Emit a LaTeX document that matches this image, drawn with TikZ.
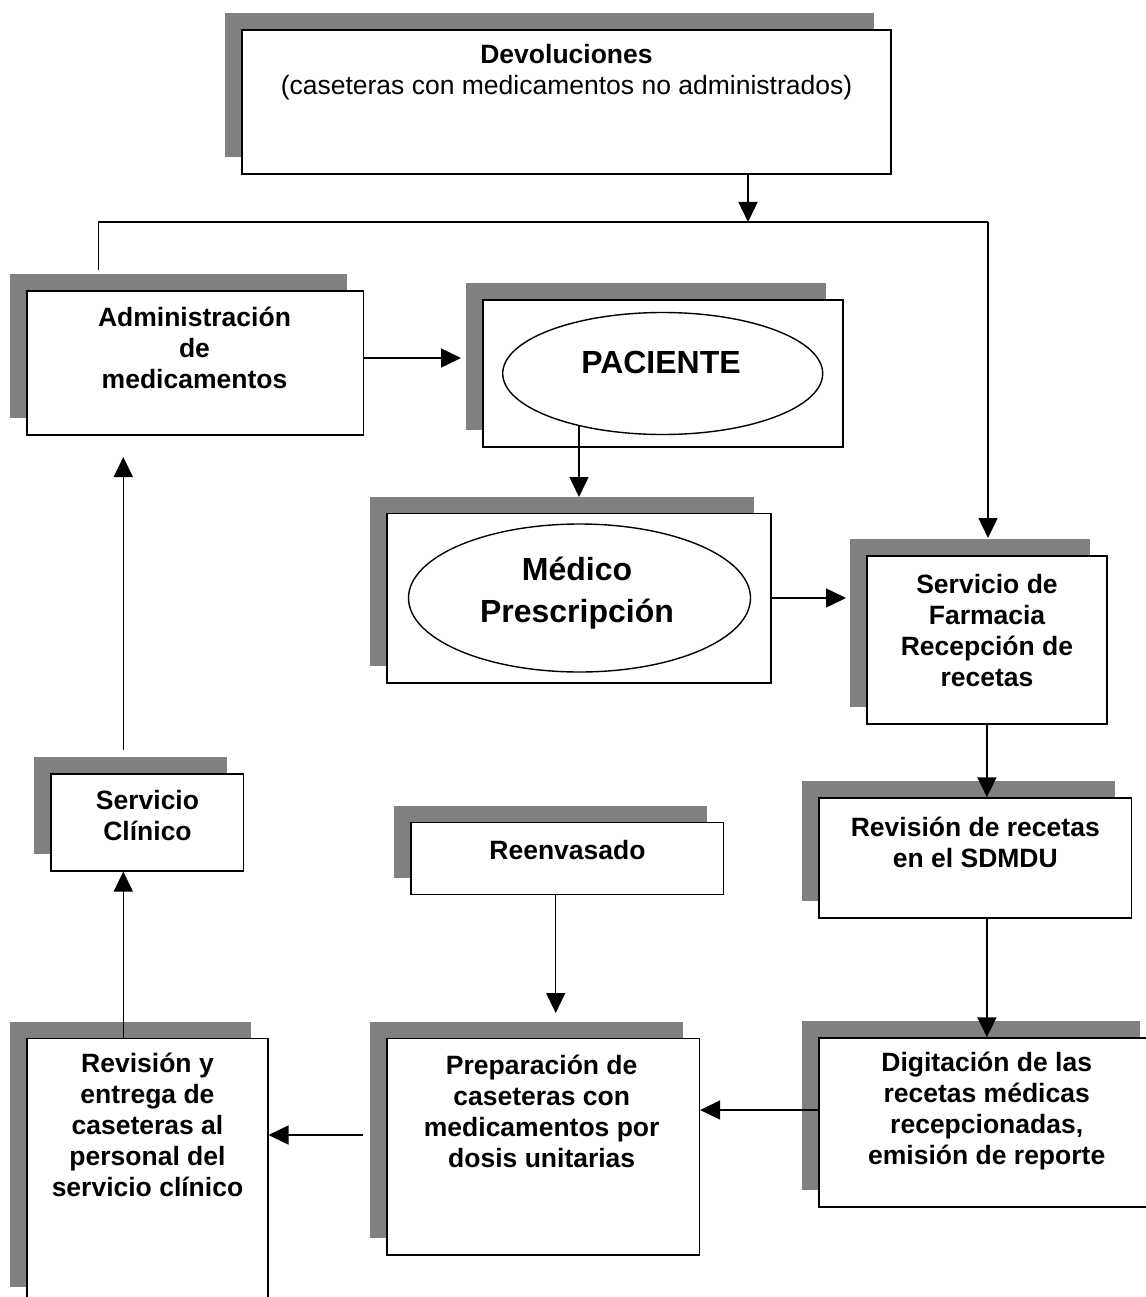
\documentclass[tikz,border=0pt]{standalone}
\usepackage{fontspec}
\setmainfont{Liberation Sans}
\usetikzlibrary{shadows,shapes.geometric,arrows.meta}
\definecolor{shadowgray}{RGB}{128,128,128}
\tikzset{
  box/.style={draw, line width=1.6pt, fill=white, rectangle, inner sep=0pt,
    general shadow={fill=shadowgray, shadow xshift=-16.7pt, shadow yshift=16.7pt}},
  oval/.style={draw, line width=1.4pt, fill=white, ellipse, inner sep=0pt},
  lbl/.style={font=\fontsize{26.5}{31}\selectfont\bfseries, align=center, inner sep=0pt},
  biglbl/.style={font=\fontsize{32}{42}\selectfont\bfseries, align=center, inner sep=0pt},
  conn/.style={line width=1.5pt},
  arr/.style={line width=1.5pt, -{Triangle[length=20pt,width=19pt]}}
}
\begin{document}
\begin{tikzpicture}[x=1pt,y=-1pt]
\useasboundingbox (0,0) rectangle (1145,1297);

% boxes
\node[box, minimum width=649pt, minimum height=144pt] (dev) at (566.5,102) {};
\node[box, minimum width=336.6pt, minimum height=144.3pt] (admin) at (195,362.9) {};
\node[box, minimum width=360.3pt, minimum height=146.7pt] (pac) at (662.9,373.4) {};
\node[box, minimum width=384pt, minimum height=169.4pt] (med) at (578.7,598) {};
\node[box, minimum width=240.3pt, minimum height=168.3pt] (farm) at (986.9,639.9) {};
\node[box, minimum width=312.7pt, minimum height=119.7pt] (rev) at (975.3,857.9) {};
\node[box, minimum width=338pt, minimum height=168.7pt] (dig) at (988,1122.4) {};
\node[box, minimum width=312.6pt, minimum height=216.7pt] (prep) at (543,1146.7) {};
\node[box, minimum width=312.3pt, minimum height=72pt] (reen) at (567.2,858.3) {};
\node[box, minimum width=192.6pt, minimum height=96.7pt] (cli) at (147,822.4) {};
\node[box, minimum width=241pt, minimum height=265.4pt] (ent) at (147.2,1171) {};

% ellipses
\node[oval, minimum width=320pt, minimum height=122pt] (pacE) at (662.7,373.5) {};
\node[oval, minimum width=342pt, minimum height=148pt] (medE) at (579.5,598) {};

% texts
\node[lbl] (devT) at (566.5,72.5) {Devoluciones\\{\mdseries (caseteras con medicamentos no administrados)}};
\node[lbl] (adminT) at (194.5,348) {Administración\\de\\medicamentos};
\node[biglbl] (pacT) at (661,362) {PACIENTE};
\node[biglbl] (medT) at (577,593.5) {Médico\\Prescripción};
\node[lbl] (farmT) at (987,631) {Servicio de\\Farmacia\\Recepción de\\recetas};
\node[lbl] (revT) at (975.3,842) {Revisión de recetas\\en el SDMDU};
\node[lbl] (digT) at (986.7,1111) {Digitación de las\\recetas médicas\\recepcionadas,\\emisión de reporte};
\node[lbl] (prepT) at (541.7,1111.5) {Preparación de\\caseteras con\\medicamentos por\\dosis unitarias};
\node[lbl] (reenT) at (567.5,850) {Reenvasado};
\node[lbl] (cliT) at (147.5,816) {Servicio\\Clínico};
\node[lbl] (entT) at (147.5,1125) {Revisión y\\entrega de\\caseteras al\\personal del\\servicio clínico};

% connector points
\coordinate (j1) at (748,222);
\coordinate (jl) at (98.3,222);
\coordinate (jr) at (988,222);
\coordinate (al) at (98.3,270);
\coordinate (ft) at (988,538);
\coordinate (pacL) at (461,358);
\coordinate (pacB) at (579,426);
\coordinate (medTop) at (579,497);
\coordinate (farmL) at (846,598);
\coordinate (dp) at (819,1110);
\coordinate (pe) at (363,1135);
\coordinate (rp) at (555.7,1013);
\coordinate (ec) at (123.3,1038);
\coordinate (ca0) at (123.3,750);
\coordinate (ca1) at (123.3,457);

% connectors
\draw[arr] (dev.south -| j1) -- (j1);
\draw[conn] (al) -- (jl) -- (jr);
\draw[arr] (jr) -- (ft);
\draw[arr] (admin.east |- pacL) -- (pacL);
\draw[arr] (pacB) -- (medTop);
\draw[arr] (med.east) -- (farmL);
\draw[arr] (farm.south) -- (farm.south |- rev.north);
\draw[arr] (farm.south |- rev.south) -- (farm.south |- dig.north);
\draw[arr] (dp) -- (dp -| prep.east);
\draw[arr] (pe) -- (pe -| ent.east);
\draw[arr] (reen.south -| rp) -- (rp);
\draw[arr] (ec) -- (ec |- cli.south);
\draw[arr] (ca0) -- (ca1);
\end{tikzpicture}
\end{document}
